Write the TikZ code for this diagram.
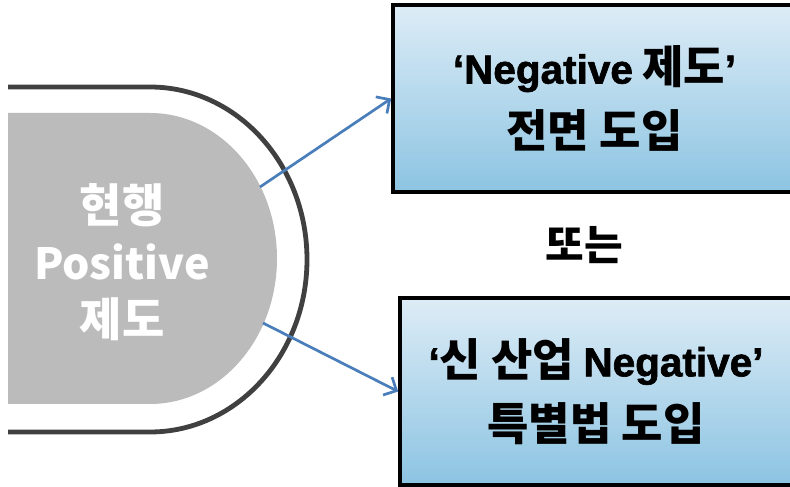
\documentclass[tikz,border=0pt]{standalone}
\usepackage{fontspec}
\setmainfont{Noto Sans CJK KR}
\newfontfamily\arial{Liberation Sans}[UprightFont={* Bold}, BoldFont={* Bold}, FakeBold=1.6]
\usetikzlibrary{arrows.meta}
\definecolor{outl}{HTML}{404040}
\definecolor{greyfill}{HTML}{BBBBBB}
\definecolor{arrowblue}{HTML}{4A7EBB}
\definecolor{boxtop}{HTML}{DDECF6}
\definecolor{boxbot}{HTML}{8CC4E2}
\newcommand{\la}[1]{{\arial\fontsize{40.5}{64}\selectfont #1}}
\newcommand{\ko}[1]{{\bfseries\fontsize{45}{64}\selectfont #1}}
\tikzset{
  optbox/.style={draw=black, line width=3.6pt, rectangle, top color=boxtop, bottom color=boxbot,
    minimum height=187pt, inner sep=0pt, align=center,
    font=\fontsize{40}{64}\selectfont\bfseries},
  conn/.style={draw=arrowblue, line width=2.7pt, -{Straight Barb[length=10pt,width=20pt,line width=2.7pt]}},
}
\begin{document}
\begin{tikzpicture}[x=1pt,y=1pt]
\useasboundingbox (0,0) rectangle (790,487);
% outer stadium outline
\draw[outl, line width=4.8pt] (8,400) -- (150,400)
  arc[start angle=90, end angle=-90, x radius=157pt, y radius=172.5pt] -- (8,55);
% inner grey shape
\fill[greyfill] (8,374) -- (150,374)
  arc[start angle=90, end angle=-90, x radius=127pt, y radius=145.5pt] -- (8,83) -- cycle;
\node[text=white, align=center, font=\fontsize{46}{57}\selectfont\bfseries] (cur) at (122,225)
  {현행\\{\fontsize{43}{57}\selectfont Positive}\\제도};
% boxes
\node[optbox, minimum width=403pt] (neg) at (594.5,388.5)
  {\la{‘Negative} \ko{제도}\la{’}\\\ko{전면 도입}};
\node[optbox, minimum width=392pt] (spec) at (596,95.5)
  {\la{‘}\ko{신 산업} \la{Negative’}\\\ko{특별법 도입}};
\node[font=\fontsize{42}{50}\selectfont\bfseries] (or) at (584,242) {또는};
% connectors
\coordinate (s1) at (260,300);
\coordinate (s2) at (263,164);
\draw[conn] (s1) -- (neg.west);
\draw[conn] (s2) -- (spec.west);
\end{tikzpicture}
\end{document}
